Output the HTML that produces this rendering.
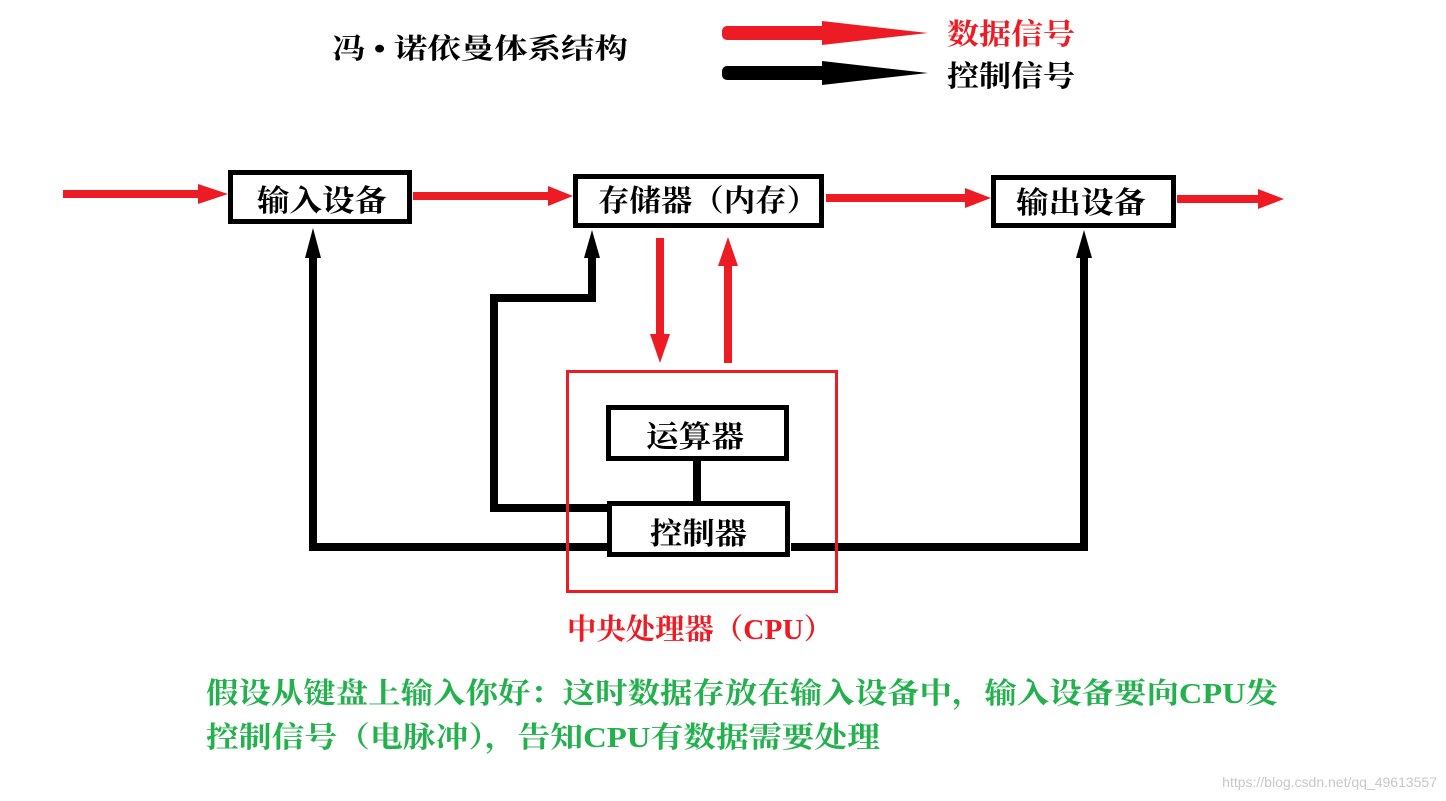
<!DOCTYPE html>
<html><head><meta charset="utf-8"><style>
html,body{margin:0;padding:0;background:#fff;}
svg{display:block;}
text{font-family:"Liberation Serif","Noto Serif CJK SC","Noto Sans CJK SC",serif;font-weight:bold;}
</style></head><body>
<svg width="1446" height="801" viewBox="0 0 1446 801" xmlns="http://www.w3.org/2000/svg">
<rect width="1446" height="801" fill="#fff"/>
<text x="332" y="58" font-size="28" fill="#000" textLength="296" lengthAdjust="spacingAndGlyphs">冯 • 诺依曼体系结构</text>
<rect x="722" y="26" width="105" height="14" rx="5" fill="#ed1c24"/>
<polygon points="822,21 928,33 822,45" fill="#ed1c24"/>
<rect x="722" y="66" width="105" height="14" rx="5" fill="#000"/>
<polygon points="822,61 928,73 822,85" fill="#000"/>
<text x="947" y="44" font-size="29" fill="#ed1c24" textLength="128" lengthAdjust="spacingAndGlyphs">数据信号</text>
<text x="947" y="86" font-size="29" fill="#000" textLength="128" lengthAdjust="spacingAndGlyphs">控制信号</text>

<g fill="#ed1c24">
<rect x="63" y="190" width="140" height="8"/>
<polygon points="198,184 228,194 198,204"/>
<rect x="413" y="192" width="140" height="8"/>
<polygon points="548,186 573,196 548,206"/>
<rect x="826" y="194" width="145" height="8"/>
<polygon points="965,188 991,198 965,208"/>
<rect x="1177" y="195" width="85" height="8"/>
<polygon points="1258,189 1284,199 1258,209"/>
<rect x="656" y="238" width="8" height="100"/>
<polygon points="650,334 660,363 670,334"/>
<rect x="724" y="262" width="8" height="101"/>
<polygon points="718,266 728,237 738,266"/>
</g>

<g fill="none" stroke="#000" stroke-width="8">
<polyline points="313,253 313,547 607,547"/>
<polyline points="592,253 592,298 494,298 494,508 607,508"/>
<polyline points="791,547 1084,547 1084,253"/>
<line x1="697" y1="461" x2="697" y2="501"/>
</g>
<g fill="#000">
<polygon points="305,258 313,228 321,258"/>
<polygon points="584,258 592,230 600,258"/>
<polygon points="1076,258 1084,230 1092,258"/>
</g>

<g fill="#fff" stroke="#000" stroke-width="5">
<rect x="230.5" y="172.5" width="179" height="49"/>
<rect x="575.5" y="176.5" width="246" height="49"/>
<rect x="993.5" y="177.5" width="180" height="48"/>
<rect x="608.5" y="407.5" width="178" height="51"/>
<rect x="609.5" y="503.5" width="178" height="51"/>
</g>
<g font-size="30" fill="#000">
<text x="257" y="211" textLength="130" lengthAdjust="spacingAndGlyphs">输入设备</text>
<text x="598" y="211" textLength="220" lengthAdjust="spacingAndGlyphs">存储器（内存）</text>
<text x="1016" y="213" textLength="130" lengthAdjust="spacingAndGlyphs">输出设备</text>
<text x="646" y="447" textLength="98" lengthAdjust="spacingAndGlyphs">运算器</text>
<text x="650" y="544" textLength="97" lengthAdjust="spacingAndGlyphs">控制器</text>
</g>

<rect x="567.5" y="371.5" width="269" height="220" fill="none" stroke="#ed1c24" stroke-width="3"/>
<text x="567" y="639" font-size="29" fill="#ed1c24" textLength="266" lengthAdjust="spacingAndGlyphs">中央处理器（CPU）</text>

<g font-size="29" fill="#22b14c">
<text x="206" y="703" textLength="1072" lengthAdjust="spacingAndGlyphs">假设从键盘上输入你好：这时数据存放在输入设备中，输入设备要向CPU发</text>
<text x="206" y="747" textLength="674" lengthAdjust="spacingAndGlyphs">控制信号（电脉冲），告知CPU有数据需要处理</text>
</g>
<text x="1437" y="787" font-size="14" fill="#c8c8c8" text-anchor="end" style="font-family:'Liberation Sans',sans-serif;font-weight:normal">https://blog.csdn.net/qq_49613557</text>
</svg>
</body></html>
